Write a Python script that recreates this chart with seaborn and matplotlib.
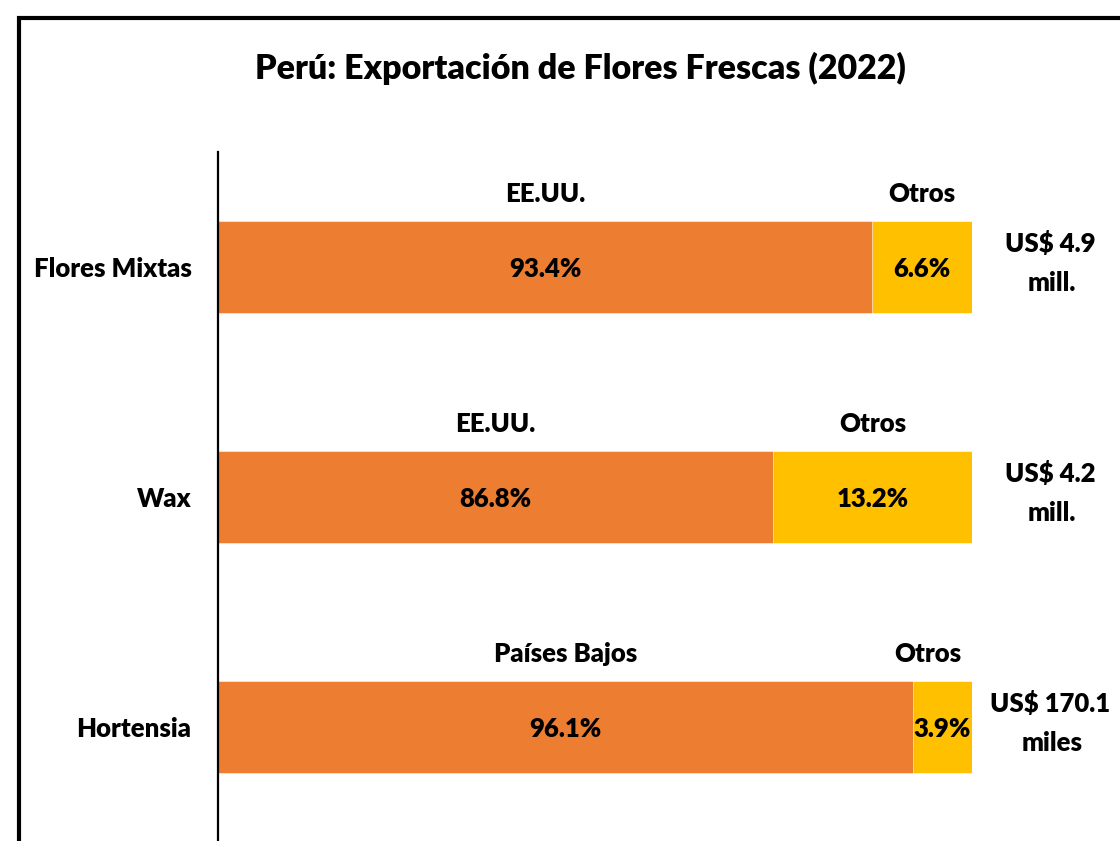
import matplotlib.pyplot as plt
import matplotlib.patches as mpatches
import pandas as pd
import seaborn as sns

# Data
productos = ['Flores Mixtas', 'Wax', 'Hortensia']
destino_principal = ['EE.UU.', 'EE.UU.', 'Países Bajos']
share_principal = [93.4, 86.8, 96.1]
share_otros = [6.6, 13.2, 3.9]
montos = ['US$ 4.9\nmill.', 'US$ 4.2\nmill.', 'US$ 170.1\nmiles']

naranja = '#ED7D31'
amarillo = '#FFC000'
x_min = 50  # the axis of the original chart starts at 50%

df = pd.DataFrame({'producto': productos,
                   'destino': destino_principal,
                   'principal': share_principal,
                   'otros': share_otros,
                   'monto': montos})
df['total'] = df['principal'] + df['otros']

sns.set_style('white')
plt.rcParams['font.family'] = ['Lato', 'DejaVu Sans']
plt.rcParams['text.color'] = 'black'
peso = 'heavy'

fig = plt.figure(figsize=(11.2, 8.41), dpi=100)
ax = fig.add_axes([218 / 1120, -0.001, 754 / 1120, 690 / 841])

# stacked bars: total in yellow, main destination in orange on top
sns.barplot(data=df, x='total', y='producto', color=amarillo, width=0.4,
            orient='h', saturation=1, ax=ax, edgecolor='white', linewidth=0.4)
sns.barplot(data=df, x='principal', y='producto', color=naranja, width=0.4,
            orient='h', saturation=1, ax=ax, edgecolor='white', linewidth=0.4)

ax.set_xlim(x_min, 100)
ax.set_ylim(2.5, -0.5)
ax.set_xlabel('')
ax.set_ylabel('')
ax.set_xticks([])
for s in ['top', 'right', 'bottom']:
    ax.spines[s].set_visible(False)
ax.spines['left'].set_color('black')
ax.spines['left'].set_linewidth(1.6)
ax.tick_params(axis='y', length=0, pad=19, labelsize=18.5, labelcolor='black')
for lbl in ax.get_yticklabels():
    lbl.set_fontweight(peso)

fs = 18.5
for i, row in df.iterrows():
    c_main = (x_min + row['principal']) / 2
    c_otros = row['principal'] + row['otros'] / 2
    ax.text(c_main, i + 0.046, f"{row['principal']:.1f}%", ha='center',
            va='baseline', fontsize=fs, fontweight=peso)
    ax.text(c_otros, i + 0.046, f"{row['otros']:.1f}%", ha='center',
            va='baseline', fontsize=fs, fontweight=peso)
    ax.text(c_main, i - 0.28, row['destino'], ha='center', va='baseline',
            fontsize=fs, fontweight=peso)
    ax.text(min(c_otros, 97.1), i - 0.28, 'Otros', ha='center', va='baseline',
            fontsize=fs, fontweight=peso)
    linea1, linea2 = row['monto'].split('\n')
    ax.text(105.2, i - 0.063, linea1, ha='center', va='baseline',
            fontsize=fs, fontweight=peso, clip_on=False)
    ax.text(105.3, i + 0.105, linea2, ha='center', va='baseline',
            fontsize=fs, fontweight=peso, clip_on=False)

fig.text(580 / 1120, 1 - 79 / 841, 'Perú: Exportación de Flores Frescas (2022)',
         ha='center', va='baseline', fontsize=24.5, fontweight=peso)

# chart frame (cropped at right and bottom)
fig.patches.append(mpatches.Rectangle((19 / 1120, -0.1), 1.2, 1.1 - 17.5 / 841,
                                      transform=fig.transFigure, fill=False,
                                      edgecolor='black', linewidth=3,
                                      clip_on=False))

fig.savefig('out.png', dpi=100)
